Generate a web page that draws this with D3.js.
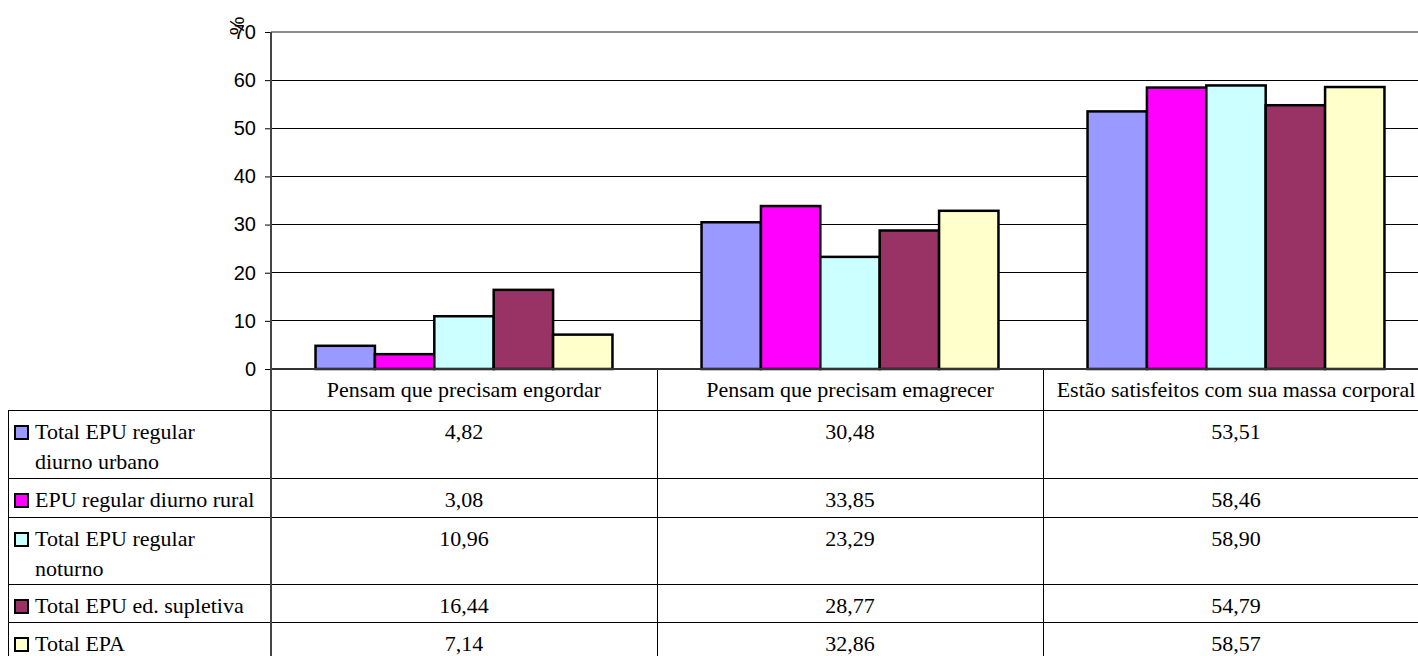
<!DOCTYPE html>
<html>
<head>
<meta charset="utf-8">
<script src="https://cdn.jsdelivr.net/npm/d3@7"></script>
<style>
  html, body { margin: 0; padding: 0; background: #fff; }
  svg { display: block; }
  .serif { font-family: "Liberation Serif", "Times New Roman", serif; }
</style>
</head>
<body>
<svg id="chart"></svg>
<script>
// categories (x axis) and series (table rows)
const categories = ["Pensam que precisam engordar", "Pensam que precisam emagrecer", "Estão satisfeitos com sua massa corporal"]
const seriesNames = [["Total EPU regular", "diurno urbano"], ["EPU regular diurno rural"], ["Total EPU regular", "noturno"], ["Total EPU ed. supletiva"], ["Total EPA"]]
const seriesColors = ["#9999FF", "#FF00FF", "#CCFFFF", "#993366", "#FFFFCC"]
const urbano = [4.82, 30.48, 53.51]
const rural = [3.08, 33.85, 58.46]
const noturno = [10.96, 23.29, 58.90]
const supletiva = [16.44, 28.77, 54.79]
const epa = [7.14, 32.86, 58.57]
const yTicks = [0, 10, 20, 30, 40, 50, 60, 70]

const values = [urbano, rural, noturno, supletiva, epa]

const width = 1418, height = 656
const margin = {top: 32, left: 271, bottom: 369}
const colW = 386
const tableLeft = 8
const rowH = [41, 68, 39, 67, 38, 38]   // header + 5 rows

const svg = d3.select("#chart").attr("width", width).attr("height", height)

const x0 = d3.scaleBand().domain(d3.range(categories.length))
  .range([margin.left, margin.left + colW * categories.length])
const bw = colW / 6.5
const x1 = d3.scaleBand().domain(d3.range(values.length))
  .range([bw * 0.75, colW - bw * 0.75])
const y = d3.scaleLinear().domain([0, 70]).range([margin.bottom, margin.top])

const fmt = d3.formatLocale({decimal: ",", thousands: ".", grouping: [3], currency: ["", ""]}).format(".2f")

// gridlines
svg.append("g")
  .selectAll("line")
  .data(yTicks.filter(t => t > 0))
  .join("line")
    .attr("x1", margin.left).attr("x2", width)
    .attr("y1", d => y(d)).attr("y2", d => y(d))
    .attr("stroke", d => d === 70 ? "#8c8c8c" : "#000")
    .attr("stroke-width", d => d === 70 ? 2 : 1)
    .attr("shape-rendering", "crispEdges")

// bars
svg.append("g")
  .selectAll("g")
  .data(values)
  .join("g")
    .attr("fill", (d, i) => seriesColors[i])
  .selectAll("rect")
  .data((d, i) => d.map((v, c) => ({s: i, c, v})))
  .join("rect")
    .attr("x", d => x0(d.c) + x1(d.s))
    .attr("width", x1.bandwidth())
    .attr("y", d => y(d.v))
    .attr("height", d => y(0) - y(d.v))
    .attr("stroke", "#000")
    .attr("stroke-width", 2.5)

// y axis
const yAxis = svg.append("g")
  .attr("transform", `translate(${margin.left},0)`)
  .call(d3.axisLeft(y).tickValues(yTicks).tickSize(6).tickPadding(9))
yAxis.select(".domain").remove()
yAxis.selectAll(".tick line").attr("stroke", "#000")
yAxis.selectAll("text")
  .attr("font-family", "Liberation Sans, Arial, sans-serif")
  .attr("font-size", 20)
  .attr("fill", "#000")

svg.append("text")
  .attr("transform", "translate(244,26) rotate(-90)")
  .attr("text-anchor", "middle")
  .attr("font-family", "Liberation Sans, Arial, sans-serif")
  .attr("font-size", 21)
  .text("%")

// table
const rowTops = [margin.bottom]
rowH.forEach((h, i) => rowTops.push(rowTops[i] + h))
const tableBottom = rowTops[rowTops.length - 1]

const table = svg.append("g")
  .attr("stroke", "#000").attr("stroke-width", 1).attr("shape-rendering", "crispEdges")

// horizontal lines
table.selectAll("line.h")
  .data(rowTops.slice(1))
  .join("line")
    .attr("x1", tableLeft).attr("x2", width)
    .attr("y1", d => d + 0.5).attr("y2", d => d + 0.5)

// vertical lines
table.append("line")
  .attr("x1", tableLeft + 0.5).attr("x2", tableLeft + 0.5)
  .attr("y1", rowTops[1]).attr("y2", tableBottom)
categories.forEach((c, i) => {
  if (i > 0) table.append("line")
    .attr("x1", x0(i) + 0.5).attr("x2", x0(i) + 0.5)
    .attr("y1", margin.bottom).attr("y2", tableBottom)
})

// y axis line and baseline, on top
svg.append("line")
  .attr("x1", margin.left).attr("x2", width)
  .attr("y1", y(0)).attr("y2", y(0))
  .attr("stroke", "#333").attr("stroke-width", 2)
svg.append("line")
  .attr("x1", margin.left).attr("x2", margin.left)
  .attr("y1", margin.top).attr("y2", tableBottom)
  .attr("stroke", "#444").attr("stroke-width", 2)

// header labels
svg.append("g")
  .selectAll("text")
  .data(categories)
  .join("text")
    .attr("class", "serif")
    .attr("x", (d, i) => x0(i) + colW / 2)
    .attr("y", rowTops[0] + 28)
    .attr("text-anchor", "middle")
    .attr("font-size", 22)
    .text(d => d)

// rows
const rows = svg.append("g")
  .selectAll("g")
  .data(values)
  .join("g")
    .attr("transform", (d, i) => `translate(0,${rowTops[i + 1]})`)

rows.append("rect")
  .attr("x", 15).attr("y", 16)
  .attr("width", 13).attr("height", 13)
  .attr("fill", (d, i) => seriesColors[i])
  .attr("stroke", "#000").attr("stroke-width", 2)

rows.each(function(d, i) {
  const t = d3.select(this).append("text")
    .attr("class", "serif").attr("font-size", 22)
  seriesNames[i].forEach((line, k) => {
    t.append("tspan").attr("x", 35).attr("y", 29 + k * 30).text(line)
  })
})

rows.selectAll("text.v")
  .data(d => d)
  .join("text")
    .attr("class", "v serif")
    .attr("x", (v, c) => x0(c) + colW / 2)
    .attr("y", 29)
    .attr("text-anchor", "middle")
    .attr("font-size", 22)
    .text(v => fmt(v))
</script>
</body>
</html>
